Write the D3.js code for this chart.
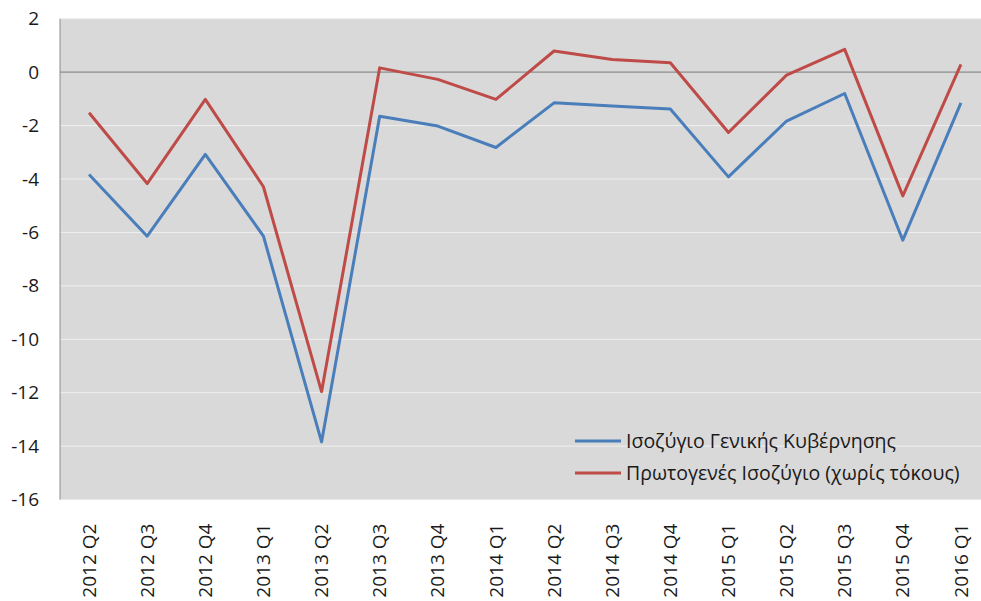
<!DOCTYPE html>
<html>
<head>
<meta charset="utf-8">
<script src="https://cdn.jsdelivr.net/npm/d3@7"></script>
<style>
  body { margin: 0; background: #fff; }
  svg text { font-family: "Open Sans", sans-serif; fill: #1a1a1a; }
</style>
</head>
<body>
<svg id="chart" width="981" height="601"></svg>
<script>
// quarters on the x axis
var quarters = ["2012 Q2", "2012 Q3", "2012 Q4", "2013 Q1", "2013 Q2", "2013 Q3", "2013 Q4", "2014 Q1",
                "2014 Q2", "2014 Q3", "2014 Q4", "2015 Q1", "2015 Q2", "2015 Q3", "2015 Q4", "2016 Q1"];

// general government balance
var generalBalance = [-3.83, -6.14, -3.08, -6.14, -13.84, -1.65, -2.02, -2.82,
                      -1.15, -1.27, -1.38, -3.92, -1.83, -0.80, -6.29, -1.15];

// primary balance (without interest)
var primaryBalance = [-1.52, -4.17, -1.02, -4.29, -11.96, 0.16, -0.27, -1.02,
                      0.79, 0.47, 0.35, -2.26, -0.11, 0.85, -4.63, 0.29];

var yTicks = [2, 0, -2, -4, -6, -8, -10, -12, -14, -16];

var seriesNames = ["Ισοζύγιο Γενικής Κυβέρνησης", "Πρωτογενές Ισοζύγιο (χωρίς τόκους)"];
var seriesColors = ["#4a7ebb", "#be4b48"];

var svg = d3.select("#chart");
var plotLeft = 60, plotRight = 990, plotTop = 18.7, plotBottom = 499.6;

var x = d3.scaleBand().domain(quarters).range([plotLeft, plotRight]);
var y = d3.scaleLinear().domain([-16, 2]).range([plotBottom, plotTop]);

// plot background
svg.append("rect")
    .attr("x", plotLeft).attr("y", plotTop)
    .attr("width", plotRight - plotLeft).attr("height", plotBottom - plotTop)
    .attr("fill", "#d9d9d9");

// gridlines
svg.append("g").selectAll("line")
    .data(yTicks.filter(function(v) { return v != 0 && v != -16; }))
    .enter()
    .append("line")
    .attr("x1", plotLeft).attr("x2", plotRight)
    .attr("y1", d => y(d)).attr("y2", d => y(d))
    .attr("stroke", "#efefef")
    .attr("stroke-width", 1);

// zero line
svg.append("line")
    .attr("x1", plotLeft).attr("x2", plotRight)
    .attr("y1", y(0)).attr("y2", y(0))
    .attr("stroke", "#8c8c8c")
    .attr("stroke-width", 1.3);

// left axis line
svg.append("line")
    .attr("x1", plotLeft).attr("x2", plotLeft)
    .attr("y1", plotTop).attr("y2", plotBottom)
    .attr("stroke", "#8c8c8c")
    .attr("stroke-width", 1);

// y tick labels (plain hyphen, as in the original)
var yAxis = svg.append("g")
    .attr("transform", "translate(" + plotLeft + ",0)")
    .call(d3.axisLeft(y).tickValues(yTicks).tickFormat(d => String(d)).tickSize(0).tickPadding(21));
yAxis.select(".domain").remove();
yAxis.selectAll("text")
    .attr("font-family", "Open Sans")
    .attr("font-size", 19)
    .attr("fill", "#1a1a1a");

// x tick labels, rotated
var xAxis = svg.append("g")
    .attr("transform", "translate(0," + plotBottom + ")")
    .call(d3.axisBottom(x).tickSize(0));
xAxis.select(".domain").remove();
xAxis.selectAll("text")
    .attr("font-family", "Open Sans")
    .attr("font-size", 19)
    .attr("fill", "#1a1a1a")
    .attr("transform", "rotate(-90)")
    .attr("text-anchor", "end")
    .attr("x", -24)
    .attr("y", 0)
    .attr("dy", "0.35em");

// lines
var line = d3.line()
    .x(function(d, i) { return x(quarters[i]) + x.bandwidth() / 2; })
    .y(function(d) { return y(d); });

[generalBalance, primaryBalance].forEach(function(s, i) {
    svg.append("path")
        .datum(s)
        .attr("d", line)
        .attr("fill", "none")
        .attr("stroke", seriesColors[i])
        .attr("stroke-width", 3)
        .attr("stroke-linejoin", "round");
});

// legend
var legend = svg.append("g");
seriesNames.forEach(function(name, i) {
    var ly = 441 + i * 32;
    legend.append("line")
        .attr("x1", 575).attr("x2", 621)
        .attr("y1", ly).attr("y2", ly)
        .attr("stroke", seriesColors[i])
        .attr("stroke-width", 3);
    legend.append("text")
        .attr("x", 626).attr("y", ly)
        .attr("dy", "0.35em")
        .attr("font-size", 19.5)
        .text(name);
});
</script>
</body>
</html>
